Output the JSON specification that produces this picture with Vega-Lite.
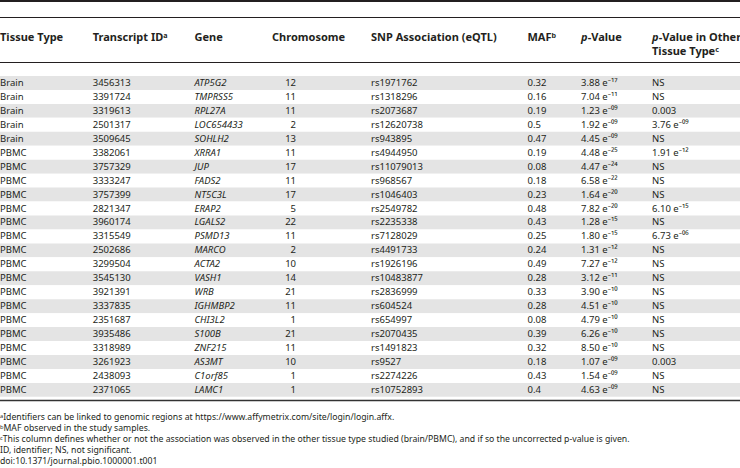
{
  "$schema": "https://vega.github.io/schema/vega-lite/v6.json",
  "width": 740,
  "height": 468,
  "padding": 0,
  "autosize": {"type": "none"},
  "background": "#ffffff",
  "config": {
    "view": {"stroke": null},
    "text": {"font": "Noto Sans", "fontSize": 9.5, "fill": "#231f20", "align": "left", "baseline": "middle"}
  },
  "datasets": {
    "rows": [
      {"tissue": "Brain", "tid": "3456313", "gene": "ATP5G2", "chr": "12", "snp": "rs1971762", "maf": "0.32", "p": "3.88 e⁻¹⁷", "other": "NS"},
      {"tissue": "Brain", "tid": "3391724", "gene": "TMPRSS5", "chr": "11", "snp": "rs1318296", "maf": "0.16", "p": "7.04 e⁻¹¹", "other": "NS"},
      {"tissue": "Brain", "tid": "3319613", "gene": "RPL27A", "chr": "11", "snp": "rs2073687", "maf": "0.19", "p": "1.23 e⁻⁰⁹", "other": "0.003"},
      {"tissue": "Brain", "tid": "2501317", "gene": "LOC654433", "chr": "2", "snp": "rs12620738", "maf": "0.5", "p": "1.92 e⁻⁰⁹", "other": "3.76 e⁻⁰⁹"},
      {"tissue": "Brain", "tid": "3509645", "gene": "SOHLH2", "chr": "13", "snp": "rs943895", "maf": "0.47", "p": "4.45 e⁻⁰⁹", "other": "NS"},
      {"tissue": "PBMC", "tid": "3382061", "gene": "XRRA1", "chr": "11", "snp": "rs4944950", "maf": "0.19", "p": "4.48 e⁻²⁵", "other": "1.91 e⁻¹²"},
      {"tissue": "PBMC", "tid": "3757329", "gene": "JUP", "chr": "17", "snp": "rs11079013", "maf": "0.08", "p": "4.47 e⁻²⁴", "other": "NS"},
      {"tissue": "PBMC", "tid": "3333247", "gene": "FADS2", "chr": "11", "snp": "rs968567", "maf": "0.18", "p": "6.58 e⁻²²", "other": "NS"},
      {"tissue": "PBMC", "tid": "3757399", "gene": "NT5C3L", "chr": "17", "snp": "rs1046403", "maf": "0.23", "p": "1.64 e⁻²⁰", "other": "NS"},
      {"tissue": "PBMC", "tid": "2821347", "gene": "ERAP2", "chr": "5", "snp": "rs2549782", "maf": "0.48", "p": "7.82 e⁻²⁰", "other": "6.10 e⁻¹⁵"},
      {"tissue": "PBMC", "tid": "3960174", "gene": "LGALS2", "chr": "22", "snp": "rs2235338", "maf": "0.43", "p": "1.28 e⁻¹⁵", "other": "NS"},
      {"tissue": "PBMC", "tid": "3315549", "gene": "PSMD13", "chr": "11", "snp": "rs7128029", "maf": "0.25", "p": "1.80 e⁻¹⁵", "other": "6.73 e⁻⁰⁶"},
      {"tissue": "PBMC", "tid": "2502686", "gene": "MARCO", "chr": "2", "snp": "rs4491733", "maf": "0.24", "p": "1.31 e⁻¹²", "other": "NS"},
      {"tissue": "PBMC", "tid": "3299504", "gene": "ACTA2", "chr": "10", "snp": "rs1926196", "maf": "0.49", "p": "7.27 e⁻¹²", "other": "NS"},
      {"tissue": "PBMC", "tid": "3545130", "gene": "VASH1", "chr": "14", "snp": "rs10483877", "maf": "0.28", "p": "3.12 e⁻¹¹", "other": "NS"},
      {"tissue": "PBMC", "tid": "3921391", "gene": "WRB", "chr": "21", "snp": "rs2836999", "maf": "0.33", "p": "3.90 e⁻¹⁰", "other": "NS"},
      {"tissue": "PBMC", "tid": "3337835", "gene": "IGHMBP2", "chr": "11", "snp": "rs604524", "maf": "0.28", "p": "4.51 e⁻¹⁰", "other": "NS"},
      {"tissue": "PBMC", "tid": "2351687", "gene": "CHI3L2", "chr": "1", "snp": "rs654997", "maf": "0.08", "p": "4.79 e⁻¹⁰", "other": "NS"},
      {"tissue": "PBMC", "tid": "3935486", "gene": "S100B", "chr": "21", "snp": "rs2070435", "maf": "0.39", "p": "6.26 e⁻¹⁰", "other": "NS"},
      {"tissue": "PBMC", "tid": "3318989", "gene": "ZNF215", "chr": "11", "snp": "rs1491823", "maf": "0.32", "p": "8.50 e⁻¹⁰", "other": "NS"},
      {"tissue": "PBMC", "tid": "3261923", "gene": "AS3MT", "chr": "10", "snp": "rs9527", "maf": "0.18", "p": "1.07 e⁻⁰⁹", "other": "0.003"},
      {"tissue": "PBMC", "tid": "2438093", "gene": "C1orf85", "chr": "1", "snp": "rs2274226", "maf": "0.43", "p": "1.54 e⁻⁰⁹", "other": "NS"},
      {"tissue": "PBMC", "tid": "2371065", "gene": "LAMC1", "chr": "1", "snp": "rs10752893", "maf": "0.4", "p": "4.63 e⁻⁰⁹", "other": "NS"}
    ],
    "headers": [
      {"column": "Tissue Type", "line": "1", "text": "Tissue Type"},
      {"column": "Transcript ID", "line": "1", "text": "Transcript IDᵃ"},
      {"column": "Gene", "line": "1", "text": "Gene"},
      {"column": "Chromosome", "line": "1", "text": "Chromosome"},
      {"column": "SNP Association (eQTL)", "line": "1", "text": "SNP Association (eQTL)"},
      {"column": "MAF", "line": "1", "text": "MAFᵇ"},
      {"column": "p-Value", "line": "1", "lead": "p", "text": "-Value"},
      {"column": "p-Value in Other Tissue Type", "line": "1", "lead": "p", "text": "-Value in Other"},
      {"column": "p-Value in Other Tissue Type", "line": "2", "text": "Tissue Typeᶜ"}
    ],
    "notes": [
      {"id": "a", "text": "ᵃIdentifiers can be linked to genomic regions at https://www.affymetrix.com/site/login/login.affx."},
      {"id": "b", "text": "ᵇMAF observed in the study samples."},
      {"id": "c", "text": "ᶜThis column defines whether or not the association was observed in the other tissue type studied (brain/PBMC), and if so the uncorrected p-value is given."},
      {"id": "ID", "text": "ID, identifier; NS, not significant."},
      {"id": "doi", "text": "doi:10.1371/journal.pbio.1000001.t001"}
    ]
  },
  "layer": [
    {
      "data": {"name": "rows"},
      "transform": [{"window": [{"op": "row_number", "as": "n"}]}],
      "mark": {"type": "rect"},
      "encoding": {
        "x": {"datum": "row", "type": "nominal", "scale": {"type": "band", "range": [0, 740], "paddingInner": 0, "paddingOuter": 0}, "axis": null},
        "y": {"field": "tid", "type": "nominal", "sort": null, "scale": {"type": "band", "range": [76, 396.85], "paddingInner": 0, "paddingOuter": 0}, "axis": null},
        "fill": {"condition": {"test": "datum.n % 2 === 1", "value": "#e4e4e4"}, "value": "#ffffff"}
      }
    },
    {
      "data": {"values": [{}]},
      "mark": {"type": "rule", "strokeWidth": 2, "color": "#231f20"},
      "encoding": {"y": {"datum": "caption", "type": "nominal", "scale": {"type": "band", "range": [1, 17.5], "paddingInner": 0, "paddingOuter": 0}, "bandPosition": 0, "axis": null}}
    },
    {
      "data": {"values": [{}]},
      "mark": {"type": "rule", "strokeWidth": 1, "color": "#231f20"},
      "encoding": {"y": {"datum": "caption", "type": "nominal", "scale": {"type": "band", "range": [1, 17.5], "paddingInner": 0, "paddingOuter": 0}, "bandPosition": 1, "axis": null}}
    },
    {
      "data": {"values": [{}]},
      "mark": {"type": "rule", "strokeWidth": 1, "color": "#231f20"},
      "encoding": {"y": {"datum": "header", "type": "nominal", "scale": {"type": "band", "range": [17.5, 62.5], "paddingInner": 0, "paddingOuter": 0}, "bandPosition": 1, "axis": null}}
    },
    {
      "data": {"values": [{}]},
      "mark": {"type": "rule", "strokeWidth": 1.6, "color": "#333333"},
      "encoding": {"y": {"datum": "body", "type": "nominal", "scale": {"type": "band", "range": [62.5, 400.5], "paddingInner": 0, "paddingOuter": 0}, "bandPosition": 1, "axis": null}}
    },
    {
      "data": {"name": "headers"},
      "transform": [{"filter": {"field": "column", "equal": "Tissue Type"}}],
      "mark": {"type": "text", "fontWeight": "bold", "fontSize": 11},
      "encoding": {
        "x": {"field": "column", "type": "nominal", "scale": {"type": "band", "range": [0, 92.7], "paddingInner": 0, "paddingOuter": 0}, "bandPosition": 0, "axis": null},
        "y": {"field": "line", "type": "nominal", "scale": {"type": "band", "domain": ["1", "2"], "range": [30.4, 59.6], "paddingInner": 0, "paddingOuter": 0}, "axis": null},
        "text": {"field": "text"}
      }
    },
    {
      "data": {"name": "headers"},
      "transform": [{"filter": {"field": "column", "equal": "Transcript ID"}}],
      "mark": {"type": "text", "fontWeight": "bold", "fontSize": 11},
      "encoding": {
        "x": {"field": "column", "type": "nominal", "scale": {"type": "band", "range": [92.7, 194], "paddingInner": 0, "paddingOuter": 0}, "bandPosition": 0, "axis": null},
        "y": {"field": "line", "type": "nominal", "scale": {"type": "band", "domain": ["1", "2"], "range": [30.4, 59.6], "paddingInner": 0, "paddingOuter": 0}, "axis": null},
        "text": {"field": "text"}
      }
    },
    {
      "data": {"name": "headers"},
      "transform": [{"filter": {"field": "column", "equal": "Gene"}}],
      "mark": {"type": "text", "fontWeight": "bold", "fontSize": 11},
      "encoding": {
        "x": {"field": "column", "type": "nominal", "scale": {"type": "band", "range": [194.5, 271.7], "paddingInner": 0, "paddingOuter": 0}, "bandPosition": 0, "axis": null},
        "y": {"field": "line", "type": "nominal", "scale": {"type": "band", "domain": ["1", "2"], "range": [30.4, 59.6], "paddingInner": 0, "paddingOuter": 0}, "axis": null},
        "text": {"field": "text"}
      }
    },
    {
      "data": {"name": "headers"},
      "transform": [{"filter": {"field": "column", "equal": "Chromosome"}}],
      "mark": {"type": "text", "fontWeight": "bold", "fontSize": 11},
      "encoding": {
        "x": {"field": "column", "type": "nominal", "scale": {"type": "band", "range": [272, 370], "paddingInner": 0, "paddingOuter": 0}, "bandPosition": 0, "axis": null},
        "y": {"field": "line", "type": "nominal", "scale": {"type": "band", "domain": ["1", "2"], "range": [30.4, 59.6], "paddingInner": 0, "paddingOuter": 0}, "axis": null},
        "text": {"field": "text"}
      }
    },
    {
      "data": {"name": "headers"},
      "transform": [{"filter": {"field": "column", "equal": "SNP Association (eQTL)"}}],
      "mark": {"type": "text", "fontWeight": "bold", "fontSize": 11},
      "encoding": {
        "x": {"field": "column", "type": "nominal", "scale": {"type": "band", "range": [371, 527], "paddingInner": 0, "paddingOuter": 0}, "bandPosition": 0, "axis": null},
        "y": {"field": "line", "type": "nominal", "scale": {"type": "band", "domain": ["1", "2"], "range": [30.4, 59.6], "paddingInner": 0, "paddingOuter": 0}, "axis": null},
        "text": {"field": "text"}
      }
    },
    {
      "data": {"name": "headers"},
      "transform": [{"filter": {"field": "column", "equal": "MAF"}}],
      "mark": {"type": "text", "fontWeight": "bold", "fontSize": 11},
      "encoding": {
        "x": {"field": "column", "type": "nominal", "scale": {"type": "band", "range": [527.5, 581], "paddingInner": 0, "paddingOuter": 0}, "bandPosition": 0, "axis": null},
        "y": {"field": "line", "type": "nominal", "scale": {"type": "band", "domain": ["1", "2"], "range": [30.4, 59.6], "paddingInner": 0, "paddingOuter": 0}, "axis": null},
        "text": {"field": "text"}
      }
    },
    {
      "data": {"name": "headers"},
      "transform": [{"filter": {"field": "column", "equal": "p-Value"}}],
      "mark": {"type": "text", "fontWeight": "bold", "fontStyle": "italic", "fontSize": 11},
      "encoding": {
        "x": {"field": "column", "type": "nominal", "scale": {"type": "band", "range": [581, 652], "paddingInner": 0, "paddingOuter": 0}, "bandPosition": 0, "axis": null},
        "y": {"field": "line", "type": "nominal", "scale": {"type": "band", "domain": ["1", "2"], "range": [30.4, 59.6], "paddingInner": 0, "paddingOuter": 0}, "axis": null},
        "text": {"field": "lead"}
      }
    },
    {
      "data": {"name": "headers"},
      "transform": [{"filter": {"field": "column", "equal": "p-Value"}}],
      "mark": {"type": "text", "fontWeight": "bold", "fontSize": 11, "dx": 6.8},
      "encoding": {
        "x": {"field": "column", "type": "nominal", "scale": {"type": "band", "range": [581, 652], "paddingInner": 0, "paddingOuter": 0}, "bandPosition": 0, "axis": null},
        "y": {"field": "line", "type": "nominal", "scale": {"type": "band", "domain": ["1", "2"], "range": [30.4, 59.6], "paddingInner": 0, "paddingOuter": 0}, "axis": null},
        "text": {"field": "text"}
      }
    },
    {
      "data": {"name": "headers"},
      "transform": [{"filter": {"and": [{"field": "column", "equal": "p-Value in Other Tissue Type"}, {"field": "line", "equal": "1"}]}}],
      "mark": {"type": "text", "fontWeight": "bold", "fontStyle": "italic", "fontSize": 11},
      "encoding": {
        "x": {"field": "column", "type": "nominal", "scale": {"type": "band", "range": [652, 740], "paddingInner": 0, "paddingOuter": 0}, "bandPosition": 0, "axis": null},
        "y": {"field": "line", "type": "nominal", "scale": {"type": "band", "domain": ["1", "2"], "range": [30.4, 59.6], "paddingInner": 0, "paddingOuter": 0}, "axis": null},
        "text": {"field": "lead"}
      }
    },
    {
      "data": {"name": "headers"},
      "transform": [{"filter": {"and": [{"field": "column", "equal": "p-Value in Other Tissue Type"}, {"field": "line", "equal": "1"}]}}],
      "mark": {"type": "text", "fontWeight": "bold", "fontSize": 11, "dx": 6.8},
      "encoding": {
        "x": {"field": "column", "type": "nominal", "scale": {"type": "band", "range": [652, 740], "paddingInner": 0, "paddingOuter": 0}, "bandPosition": 0, "axis": null},
        "y": {"field": "line", "type": "nominal", "scale": {"type": "band", "domain": ["1", "2"], "range": [30.4, 59.6], "paddingInner": 0, "paddingOuter": 0}, "axis": null},
        "text": {"field": "text"}
      }
    },
    {
      "data": {"name": "headers"},
      "transform": [{"filter": {"and": [{"field": "column", "equal": "p-Value in Other Tissue Type"}, {"field": "line", "equal": "2"}]}}],
      "mark": {"type": "text", "fontWeight": "bold", "fontSize": 11},
      "encoding": {
        "x": {"field": "column", "type": "nominal", "scale": {"type": "band", "range": [652, 740], "paddingInner": 0, "paddingOuter": 0}, "bandPosition": 0, "axis": null},
        "y": {"field": "line", "type": "nominal", "scale": {"type": "band", "domain": ["1", "2"], "range": [30.4, 59.6], "paddingInner": 0, "paddingOuter": 0}, "axis": null},
        "text": {"field": "text"}
      }
    },
    {
      "data": {"name": "rows"},
      "mark": {"type": "text"},
      "encoding": {
        "x": {"datum": "Tissue Type", "type": "nominal", "scale": {"type": "band", "range": [0, 92.7], "paddingInner": 0, "paddingOuter": 0}, "bandPosition": 0, "axis": null},
        "y": {"field": "tid", "type": "nominal", "sort": null, "scale": {"type": "band", "range": [76, 396.85], "paddingInner": 0, "paddingOuter": 0}, "axis": null},
        "text": {"field": "tissue"}
      }
    },
    {
      "data": {"name": "rows"},
      "mark": {"type": "text"},
      "encoding": {
        "x": {"datum": "Transcript ID", "type": "nominal", "scale": {"type": "band", "range": [92.7, 194], "paddingInner": 0, "paddingOuter": 0}, "bandPosition": 0, "axis": null},
        "y": {"field": "tid", "type": "nominal", "sort": null, "scale": {"type": "band", "range": [76, 396.85], "paddingInner": 0, "paddingOuter": 0}, "axis": null},
        "text": {"field": "tid"}
      }
    },
    {
      "data": {"name": "rows"},
      "mark": {"type": "text", "fontStyle": "italic"},
      "encoding": {
        "x": {"datum": "Gene", "type": "nominal", "scale": {"type": "band", "range": [194.5, 271.7], "paddingInner": 0, "paddingOuter": 0}, "bandPosition": 0, "axis": null},
        "y": {"field": "tid", "type": "nominal", "sort": null, "scale": {"type": "band", "range": [76, 396.85], "paddingInner": 0, "paddingOuter": 0}, "axis": null},
        "text": {"field": "gene"}
      }
    },
    {
      "data": {"name": "rows"},
      "mark": {"type": "text", "align": "right"},
      "encoding": {
        "x": {"datum": "Chromosome", "type": "nominal", "scale": {"type": "band", "range": [272, 296], "paddingInner": 0, "paddingOuter": 0}, "bandPosition": 1, "axis": null},
        "y": {"field": "tid", "type": "nominal", "sort": null, "scale": {"type": "band", "range": [76, 396.85], "paddingInner": 0, "paddingOuter": 0}, "axis": null},
        "text": {"field": "chr"}
      }
    },
    {
      "data": {"name": "rows"},
      "mark": {"type": "text"},
      "encoding": {
        "x": {"datum": "SNP Association (eQTL)", "type": "nominal", "scale": {"type": "band", "range": [371, 527], "paddingInner": 0, "paddingOuter": 0}, "bandPosition": 0, "axis": null},
        "y": {"field": "tid", "type": "nominal", "sort": null, "scale": {"type": "band", "range": [76, 396.85], "paddingInner": 0, "paddingOuter": 0}, "axis": null},
        "text": {"field": "snp"}
      }
    },
    {
      "data": {"name": "rows"},
      "mark": {"type": "text"},
      "encoding": {
        "x": {"datum": "MAF", "type": "nominal", "scale": {"type": "band", "range": [527.5, 581], "paddingInner": 0, "paddingOuter": 0}, "bandPosition": 0, "axis": null},
        "y": {"field": "tid", "type": "nominal", "sort": null, "scale": {"type": "band", "range": [76, 396.85], "paddingInner": 0, "paddingOuter": 0}, "axis": null},
        "text": {"field": "maf"}
      }
    },
    {
      "data": {"name": "rows"},
      "mark": {"type": "text"},
      "encoding": {
        "x": {"datum": "p-Value", "type": "nominal", "scale": {"type": "band", "range": [581, 652], "paddingInner": 0, "paddingOuter": 0}, "bandPosition": 0, "axis": null},
        "y": {"field": "tid", "type": "nominal", "sort": null, "scale": {"type": "band", "range": [76, 396.85], "paddingInner": 0, "paddingOuter": 0}, "axis": null},
        "text": {"field": "p"}
      }
    },
    {
      "data": {"name": "rows"},
      "mark": {"type": "text"},
      "encoding": {
        "x": {"datum": "p-Value in Other Tissue Type", "type": "nominal", "scale": {"type": "band", "range": [652, 740], "paddingInner": 0, "paddingOuter": 0}, "bandPosition": 0, "axis": null},
        "y": {"field": "tid", "type": "nominal", "sort": null, "scale": {"type": "band", "range": [76, 396.85], "paddingInner": 0, "paddingOuter": 0}, "axis": null},
        "text": {"field": "other"}
      }
    },
    {
      "data": {"name": "notes"},
      "mark": {"type": "text", "fontSize": 8.7},
      "encoding": {
        "x": {"datum": "notes", "type": "nominal", "scale": {"type": "band", "range": [0, 740], "paddingInner": 0, "paddingOuter": 0}, "bandPosition": 0, "axis": null},
        "y": {"field": "id", "type": "nominal", "sort": null, "scale": {"type": "band", "range": [411.5, 466.5], "paddingInner": 0, "paddingOuter": 0}, "axis": null},
        "text": {"field": "text"}
      }
    }
  ],
  "resolve": {"scale": {"x": "independent", "y": "independent"}}
}
